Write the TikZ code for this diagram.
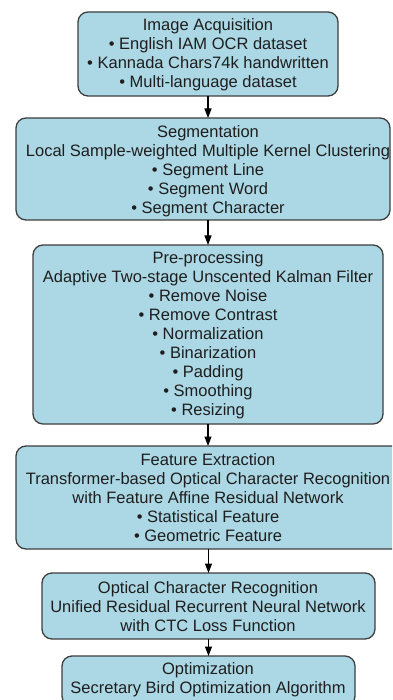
\documentclass[tikz,border=0pt]{standalone}
\usepackage{fontspec}
\setmainfont{Liberation Sans}
\usetikzlibrary{arrows.meta}
\definecolor{boxfill}{RGB}{172,216,229}
\definecolor{boxline}{RGB}{62,62,62}
\definecolor{txtcol}{RGB}{30,30,30}
\begin{document}
\begin{tikzpicture}[x=1pt,y=-1pt,
  box/.style={draw=boxline, line width=1.3pt, fill=boxfill, rounded corners=10pt, inner sep=0pt, outer sep=0pt},
  txt/.style={align=center, inner sep=0pt, text=txtcol, font=\fontsize{16.5pt}{19pt}\selectfont},
  arr/.style={draw=black, line width=1.1pt, -{Triangle[length=9.5pt,width=7pt]}}]
\useasboundingbox (0,0) rectangle (392,700);
\clip (0,0) rectangle (392,700);
% boxes
\node[box, minimum width=260pt, minimum height=84pt] (b1) at (208,54) {};
\node[box, minimum width=374pt, minimum height=102pt] (b2) at (203,169) {};
\node[box, minimum width=350pt, minimum height=179pt] (b3) at (208,334.5) {};
\node[box, minimum width=386pt, minimum height=103pt] (b4) at (209,497.5) {};
\node[box, minimum width=333pt, minimum height=66pt] (b5) at (208.5,606) {};
\node[box, minimum width=293pt, minimum height=50pt] (b6) at (208.5,681) {};
% texts
\node[txt] (t1) at (208,55.2) {Image Acquisition\\ \textbullet\ English IAM OCR dataset\\ \textbullet\ Kannada Chars74k handwritten\\ \textbullet\ Multi-language dataset};
\node[txt] (t2) at (208,170.8) {Segmentation\\ Local Sample-weighted Multiple Kernel Clustering\\ \textbullet\ Segment Line\\ \textbullet\ Segment Word\\ \textbullet\ Segment Character};
\node[txt] (t3) at (208,335.2) {Pre-processing\\ Adaptive Two-stage Unscented Kalman Filter\\ \textbullet\ Remove Noise\\ \textbullet\ Remove Contrast\\ \textbullet\ Normalization\\ \textbullet\ Binarization\\ \textbullet\ Padding\\ \textbullet\ Smoothing\\ \textbullet\ Resizing};
\node[txt] (t4) at (208,497.7) {Feature Extraction\\ Transformer-based Optical Character Recognition\\ with Feature Affine Residual Network\\ \textbullet\ Statistical Feature\\ \textbullet\ Geometric Feature};
\node[txt] (t5) at (208,606.2) {Optical Character Recognition\\ Unified Residual Recurrent Neural Network\\ with CTC Loss Function};
\node[txt] (t6) at (208,680.2) {Optimization\\ Secretary Bird Optimization Algorithm};
% arrows
\draw[arr] (b1.south) -- (b1.south |- b2.north);
\draw[arr] (b3.north |- b2.south) -- (b3.north);
\draw[arr] (b3.south) -- (b3.south |- b4.north);
\draw[arr] (b5.north |- b4.south) -- (b5.north);
\draw[arr] (b5.south) -- (b5.south |- b6.north);
\end{tikzpicture}
\end{document}
